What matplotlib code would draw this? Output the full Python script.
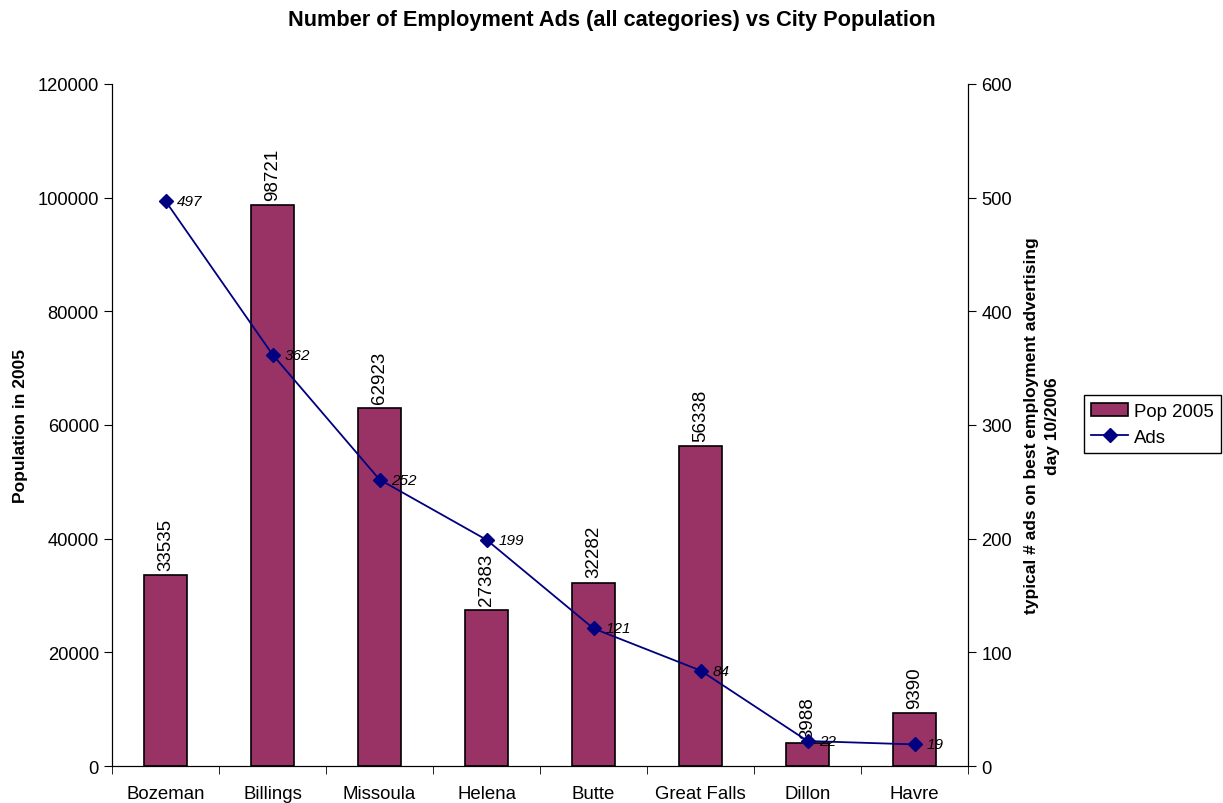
import numpy as np
import matplotlib.pyplot as plt

cities = ["Bozeman", "Billings", "Missoula", "Helena", "Butte",
          "Great Falls", "Dillon", "Havre"]
pop_2005 = [33535, 98721, 62923, 27383, 32282, 56338, 3988, 9390]
ads = [497, 362, 252, 199, 121, 84, 22, 19]

plt.rcParams['font.family'] = ['Liberation Sans', 'DejaVu Sans']

fig = plt.figure(figsize=(12.23, 8.04), dpi=100)
ax = fig.add_axes([0.0916, 0.0460, 0.6999, 0.8483])
ax2 = ax.twinx()

x = np.arange(len(cities))
bars = ax.bar(x, pop_2005, width=0.4, color="#993366", edgecolor="black",
              linewidth=1.2, label="Pop 2005", zorder=2)
for xi, v in zip(x, pop_2005):
    ax.text(xi, v + 900, str(v), rotation=90, ha="center", va="bottom",
            fontsize=13.5)

line, = ax2.plot(x, ads, color="#000080", marker="D", markersize=7,
                 linewidth=1.3, label="Ads", zorder=3)
for xi, v in zip(x, ads):
    ax2.text(xi + 0.11, v, str(v), style="italic", ha="left", va="center",
             fontsize=11)

ax.set_xlim(-0.5, len(cities) - 0.5)
ax.set_ylim(0, 120000)
ax2.set_ylim(0, 600)
ax.set_yticks(np.arange(0, 120001, 20000))
ax2.set_yticks(np.arange(0, 601, 100))

ax.set_xticks(x)
ax.set_xticklabels(cities, fontsize=13.4)
ax.set_xticks(np.arange(-0.5, len(cities)), minor=True)
ax.tick_params(axis="x", which="major", length=0, pad=14)
ax.tick_params(axis="x", which="minor", length=6, direction="out")
ax.tick_params(axis="y", labelsize=13.2, length=6, direction="out")
ax2.tick_params(axis="y", labelsize=13.2, length=6, direction="out")

for a in (ax, ax2):
    a.spines["top"].set_visible(False)
ax.set_zorder(ax2.get_zorder() - 1)
ax2.patch.set_visible(False)
ax.patch.set_visible(False)

ax.set_ylabel("Population in 2005", fontsize=12.5, fontweight="bold", labelpad=7)
ax2.set_ylabel("typical # ads on best employment advertising\nday 10/2006",
               fontsize=12.5, fontweight="bold", labelpad=9, rotation=90,
               ha="center", linespacing=1.45)

fig.text(0.5, 0.975, "Number of Employment Ads (all categories) vs City Population",
         ha="center", va="center", fontsize=15.7, fontweight="bold")

fig.legend([bars, line], ["Pop 2005", "Ads"], loc="center left",
           bbox_to_anchor=(0.886, 0.471), fontsize=13.4, frameon=True,
           fancybox=False, edgecolor="black", framealpha=1,
           handlelength=2.0, borderpad=0.4, labelspacing=0.5,
           handletextpad=0.3, borderaxespad=0)

fig.savefig("out.png", dpi=100)
